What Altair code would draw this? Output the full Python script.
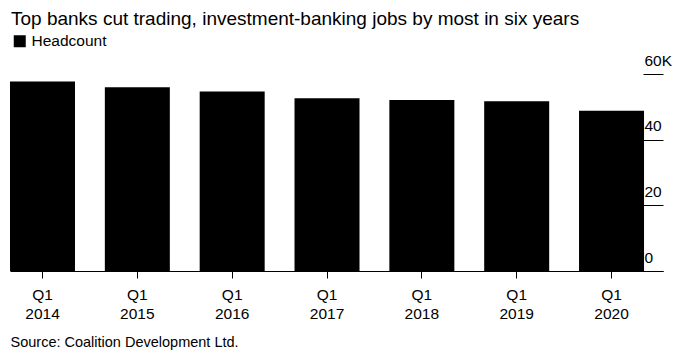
import altair as alt
import pandas as pd

periods = ["Q1 2014", "Q1 2015", "Q1 2016", "Q1 2017", "Q1 2018", "Q1 2019", "Q1 2020"]
headcount_k = [57.7, 56.0, 54.7, 52.6, 52.1, 51.7, 48.8]
series_name = ["Headcount"] * len(periods)
y_ticks = [0, 20, 40, 60]

df = pd.DataFrame({"period": periods, "value": headcount_k, "series": series_name})

FONT = "Liberation Sans"

chart = alt.Chart(df).mark_bar(color="black").encode(
    x=alt.X(
        "period:N",
        sort=periods,
        scale=alt.Scale(paddingInner=0.3146, paddingOuter=0.1, align=0),
        axis=alt.Axis(
            title="Source: Coalition Development Ltd.",
            titleFont=FONT,
            titleFontSize=14.5,
            titleFontWeight="normal",
            titleColor="black",
            titleAnchor="start",
            titleAlign="left",
            titleBaseline="alphabetic",
            titleX=0,
            titleY=75,
            labelExpr="split(datum.label, ' ')",
            labelAngle=0,
            labelFont=FONT,
            labelFontSize=15.5,
            labelColor="black",
            labelLineHeight=19,
            labelPadding=9,
            labelBaseline="top",
            tickSize=7,
            tickColor="black",
            domainColor="black",
            domainWidth=1,
        ),
    ),
    y=alt.Y(
        "value:Q",
        scale=alt.Scale(domain=[0, 60], nice=False),
        axis=alt.Axis(
            orient="right",
            title=None,
            values=y_ticks,
            offset=-20,
            domain=False,
            grid=False,
            tickSize=20,
            tickColor="black",
            labelExpr="datum.value == 60 ? '60K' : datum.label",
            labelFont=FONT,
            labelFontSize=15.5,
            labelColor="black",
            labelAlign="left",
            labelBaseline="alphabetic",
            labelPadding=-19,
            labelOffset=-9,
        ),
    ),
    color=alt.Color(
        "series:N",
        scale=alt.Scale(range=["#000000"]),
        legend=alt.Legend(
            title=None,
            orient="none",
            legendX=2,
            legendY=-40.5,
            symbolType="square",
            symbolSize=144,
            symbolStrokeWidth=0,
            labelFont=FONT,
            labelFontSize=15.5,
            labelColor="black",
            labelOffset=4,
            padding=0,
        ),
    ),
).properties(
    width=653,
    height=197,
    padding={"left": 2, "top": 66, "right": 16, "bottom": 79},
    autosize=alt.AutoSizeParams(type="none"),
    title=alt.TitleParams(
        text="Top banks cut trading, investment-banking jobs by most in six years",
        font=FONT,
        fontSize=19,
        fontWeight="normal",
        color="black",
        anchor="start",
        frame="group",
        baseline="alphabetic",
        offset=0,
        dx=1,
        dy=10,
    ),
).configure_view(stroke=None)

chart.save("out.html", embed_options={"renderer": "svg", "actions": False})
